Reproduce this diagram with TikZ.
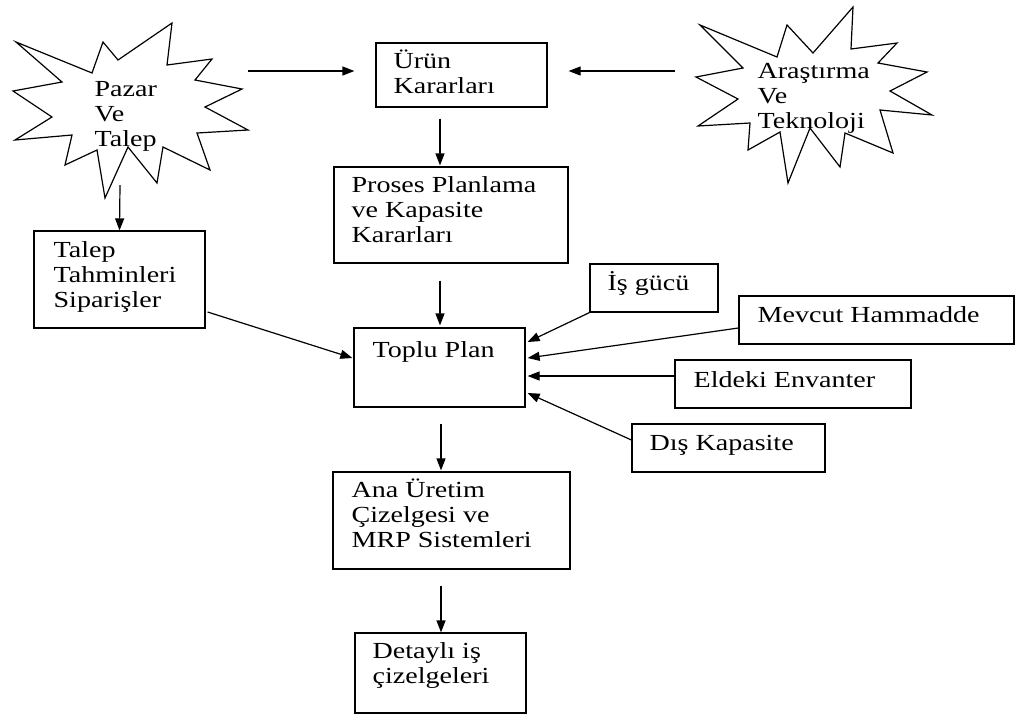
\documentclass[tikz,border=0pt]{standalone}
\usepackage{fontspec}
\setmainfont[FakeStretch=1.22]{Liberation Serif}
\usetikzlibrary{arrows.meta,calc}
\begin{document}
\begin{tikzpicture}[x=1pt,y=-1pt,line width=1.2pt,
  box/.style={draw,rectangle,inner sep=0pt},
  lbl/.style={anchor=base west,align=left,inner sep=0pt,font=\fontsize{23}{25}\selectfont},
  arr/.style={-{Triangle[length=12pt,width=9pt]},line width=1.2pt},
  star/.style={draw,line width=1.2pt,line join=miter}]
\useasboundingbox (0,0) rectangle (1016,716);
% starbursts
\draw[star] (16,42)--(92,73)--(103,42)--(118,60)--(172,23)--(167,65)--(212,59)--(195,80)--(242,89)--(205,107)--(248,130)--(197,133)--(210,170)--(163,147)--(157,183)--(128,147)--(105,198)--(97,150)--(65,165)--(72,135)--(15,140)--(52,117)--(13,91)--(62,82)--cycle;
\draw[star] (700,25)--(777,57)--(787,25)--(813,53)--(853,7)--(851,49)--(897,43)--(878,63)--(927,72)--(890,91)--(932,115)--(880,110)--(893,153)--(845,133)--(840,167)--(810,128)--(788,183)--(780,132)--(748,150)--(750,123)--(698,126)--(738,99)--(696,77)--(743,68)--cycle;
% (anchor base west = baseline of the last line)
\node[lbl] (pazar) at (94,146) {Pazar\\Ve\\Talep};
\node[lbl] (aras) at (757,128) {Araştırma\\Ve\\Teknoloji};
\coordinate (pazarE) at (248,71);
\coordinate (pazarS) at (120,185);
\coordinate (arasW) at (675,71);
% boxes
\node[box,minimum width=171,minimum height=64] (urun) at (461.5,75) {};
\node[box,minimum width=234,minimum height=96] (proses) at (451,215) {};
\node[box,minimum width=171,minimum height=97] (talep) at (119.5,279.5) {};
\node[box,minimum width=171,minimum height=79] (toplu) at (439.5,367.5) {};
\node[box,minimum width=237,minimum height=97] (ana) at (451.5,520.5) {};
\node[box,minimum width=171,minimum height=80] (detay) at (440.5,673) {};
\node[box,minimum width=128,minimum height=48] (isgucu) at (654,288) {};
\node[box,minimum width=275,minimum height=48] (mevcut) at (876.5,320) {};
\node[box,minimum width=236,minimum height=48] (eldeki) at (793,384) {};
\node[box,minimum width=193,minimum height=48] (dis) at (728.5,448) {};
% texts
\node[lbl] (turun) at (393,93) {Ürün\\Kararları};
\node[lbl] (tproses) at (351,242) {Proses Planlama\\ve Kapasite\\Kararları};
\node[lbl] (ttalep) at (53,307) {Talep\\Tahminleri\\Siparişler};
\node[lbl] (ttoplu) at (372,357) {Toplu Plan};
\node[lbl] (tana) at (351,547) {Ana Üretim\\Çizelgesi ve\\MRP Sistemleri};
\node[lbl] (tdetay) at (372,683) {Detaylı iş\\çizelgeleri};
\node[lbl] (tisgucu) at (607,290) {İş gücü};
\node[lbl] (tmevcut) at (757,322) {Mevcut Hammadde};
\node[lbl] (teldeki) at (693,387) {Eldeki Envanter};
\node[lbl] (tdis) at (649,450) {Dış Kapasite};
% arrows
\draw[arr] (pazarE) -- ($(urun.west)+(-21,-4)$);
\draw[arr] (arasW) -- ($(urun.east)+(21,-4)$);
\draw[arr] ($(urun.south)+(-21.5,11)$) -- ($(proses.north)+(-11,-1)$);
\draw[arr] (pazarS) -- (talep.north);
\draw[arr] ($(talep.east)+(2,32.5)$) -- ($(toplu.west)+(-1,-9.5)$);
\draw[arr] ($(proses.south)+(-11,17)$) -- ($(toplu.north)+(0.5,-2)$);
\draw[arr] ($(toplu.south)+(1.5,16)$) -- ($(ana.north)+(-10.5,-1)$);
\draw[arr] ($(ana.south)+(-10.5,16)$) -- ($(detay.north)+(0.5,0)$);
\draw[arr] (isgucu.south west) -- ($(toplu.east)+(2,-25.5)$);
\draw[arr] ($(mevcut.west)+(0,8)$) -- ($(toplu.east)+(2,-9.5)$);
\draw[arr] ($(eldeki.west)+(0,-8)$) -- ($(toplu.east)+(2,8.5)$);
\draw[arr] ($(dis.west)+(0,-8)$) -- ($(toplu.east)+(2,25.5)$);
\end{tikzpicture}
\end{document}
